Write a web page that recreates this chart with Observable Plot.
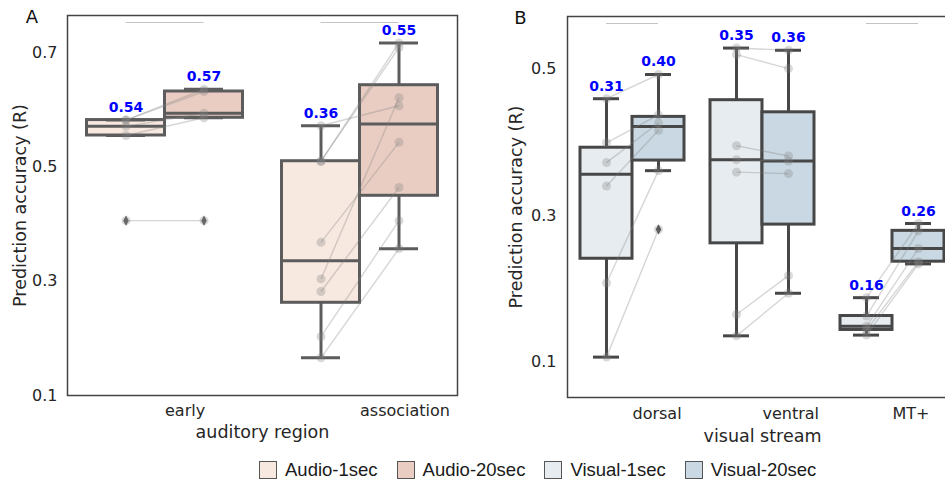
<!DOCTYPE html>
<html>
<head>
<meta charset="utf-8">
<script src="https://cdn.jsdelivr.net/npm/d3@7"></script>
<script src="https://cdn.jsdelivr.net/npm/@observablehq/plot@0.6"></script>
<style>
  html, body { margin: 0; padding: 0; background: #fff; width: 945px; height: 484px; overflow: hidden; }
  #wrap { position: relative; width: 945px; height: 484px; overflow: hidden; }
  #panelA { position: absolute; left: 0; top: 0; width: 470px; }
  #panelB { position: absolute; left: 470px; top: 0; width: 490px; }
  #panelA svg, #panelB svg { max-width: none !important; }
  #legend { position: absolute; left: 259px; top: 459px; display: flex; align-items: center; gap: 19px;
            font-family: "Liberation Sans", Arial, sans-serif; font-size: 18.5px; color: #1a1a1a; }
  .item { display: flex; align-items: center; gap: 8px; }
  .sw { width: 16px; height: 16px; border: 1px solid #555; }
</style>
</head>
<body>
<div id="wrap"><div id="panelA"></div><div id="panelB"></div><div id="legend"></div></div>
<script>
// ---------------- data ----------------
const auditoryRegions = ["early", "association"];
const audioConditions = ["Audio-1sec", "Audio-20sec"];
// one value per subject; same index = same subject in both conditions
const earlyAudio1sec  = [0.582, 0.582, 0.571, 0.555, 0.406];
const earlyAudio20sec = [0.636, 0.632, 0.594, 0.586, 0.406];
const assocAudio1sec  = [0.572, 0.510, 0.510, 0.368, 0.304, 0.282, 0.203, 0.166];
const assocAudio20sec = [0.607, 0.717, 0.709, 0.543, 0.621, 0.464, 0.406, 0.357];

const visualStreams = ["dorsal", "ventral", "MT+"];
const visualConditions = ["Visual-1sec", "Visual-20sec"];
const dorsalVisual1sec  = [0.459, 0.399, 0.372, 0.340, 0.208, 0.107];
const dorsalVisual20sec = [0.492, 0.437, 0.426, 0.416, 0.361, 0.281];
const ventralVisual1sec  = [0.528, 0.519, 0.395, 0.376, 0.359, 0.165, 0.136];
const ventralVisual20sec = [0.525, 0.500, 0.381, 0.374, 0.357, 0.218, 0.194];
const mtVisual1sec  = [0.188, 0.163, 0.149, 0.144, 0.137];
const mtVisual20sec = [0.289, 0.279, 0.255, 0.237, 0.234];

const yTicksA = [0.1, 0.3, 0.5, 0.7];
const yTicksB = [0.1, 0.3, 0.5];
const markedA = ["early", "association"];
const markedB = ["dorsal", "MT+"];

const audioColors = ["#f7e8e0", "#e9cdc3"];
const visualColors = ["#e7ecf0", "#c9d8e2"];

// ---------------- drawing ----------------
const thinDiamond = {
  draw(ctx, size) {
    const r = Math.sqrt(size / Math.PI);
    const h = r * 1.15, w = r * 0.62;
    ctx.moveTo(0, -h); ctx.lineTo(w, 0); ctx.lineTo(0, h); ctx.lineTo(-w, 0); ctx.closePath();
  }
};

function panel(cfg) {
  const {categories, conditions, values, colors, yDomain, yTicks, marked, stroke} = cfg;
  const boxW = 0.4, capW = 0.2;
  const posOf = (ci, hi) => ci + (hi - (conditions.length - 1) / 2) * boxW;
  const points = [], stats = [], links = [];
  categories.forEach((cat, ci) => {
    const series = values[ci];
    series.forEach((vals, hi) => {
      const pos = posOf(ci, hi);
      vals.forEach((v, s) => points.push({cat, cond: conditions[hi], subject: s, value: v, pos}));
      const sorted = vals.slice().sort(d3.ascending);
      const q1 = d3.quantileSorted(sorted, 0.25);
      const median = d3.quantileSorted(sorted, 0.5);
      const q3 = d3.quantileSorted(sorted, 0.75);
      const iqr = q3 - q1;
      const inside = sorted.filter(v => v >= q1 - 1.5 * iqr && v <= q3 + 1.5 * iqr);
      stats.push({
        cat, cond: conditions[hi], pos, q1, median, q3,
        lo: d3.min(inside), hi: d3.max(inside),
        outliers: sorted.filter(v => !inside.includes(v)),
        mean: d3.mean(vals), top: d3.max(vals)
      });
    });
    series[0].forEach((v, s) => links.push({x1: posOf(ci, 0), y1: v, x2: posOf(ci, 1), y2: series[1][s]}));
  });
  const outliers = stats.flatMap(d => d.outliers.map(v => ({pos: d.pos, value: v})));
  const catIndex = c => categories.indexOf(c);

  return Plot.plot({
    width: cfg.width, height: cfg.height,
    marginLeft: cfg.marginLeft, marginRight: cfg.marginRight,
    marginTop: cfg.marginTop, marginBottom: cfg.marginBottom,
    style: {fontFamily: "DejaVu Sans", fontSize: "16px", color: "#262626", background: "transparent",
            overflow: "visible", maxWidth: "none"},
    x: {domain: [-0.5, categories.length - 0.5], axis: null},
    y: {domain: yDomain, axis: null},
    color: {domain: conditions, range: colors},
    marks: [
      Plot.rect(stats, {x1: d => d.pos - boxW / 2, x2: d => d.pos + boxW / 2, y1: "q1", y2: "q3",
                        fill: "cond", stroke, strokeWidth: 3}),
      Plot.ruleX(stats, {x: "pos", y1: "q3", y2: "hi", stroke, strokeWidth: 3}),
      Plot.ruleX(stats, {x: "pos", y1: "lo", y2: "q1", stroke, strokeWidth: 3}),
      Plot.ruleY(stats, {y: "hi", x1: d => d.pos - capW / 2, x2: d => d.pos + capW / 2, stroke, strokeWidth: 3}),
      Plot.ruleY(stats, {y: "lo", x1: d => d.pos - capW / 2, x2: d => d.pos + capW / 2, stroke, strokeWidth: 3}),
      Plot.ruleY(stats, {y: "median", x1: d => d.pos - boxW / 2, x2: d => d.pos + boxW / 2, stroke, strokeWidth: 3}),
      Plot.dot(outliers, {x: "pos", y: "value", symbol: thinDiamond, r: 4.5, fill: stroke, stroke: "none"}),
      Plot.link(links, {x1: "x1", y1: "y1", x2: "x2", y2: "y2", stroke: "#808080", strokeOpacity: 0.32, strokeWidth: 1.4}),
      Plot.dot(points, {x: "pos", y: "value", r: 4.5, fill: "#808080", fillOpacity: 0.3, stroke: "none"}),
      Plot.text(stats, {x: "pos", y: "top", text: d => d3.format(".2f")(d.mean), dy: -12.5,
                        fill: "#0000ff", fontWeight: "bold", fontSize: 14, lineAnchor: "middle"}),
      Plot.ruleY(marked, {y: () => yDomain[1], x1: c => catIndex(c) - boxW / 2, x2: c => catIndex(c) + boxW / 2,
                          dy: 7, stroke: "#c4c4c4", strokeWidth: 1}),
      Plot.frame({stroke: "#444", strokeWidth: 1.5}),
      Plot.axisY(yTicks, {tickSize: 0, tickPadding: cfg.yPad, tickFormat: d3.format(".1f"), fontSize: 16, label: null}),
      Plot.axisX(d3.range(categories.length), {tickSize: 0, tickPadding: cfg.xPad, tickFormat: i => categories[i],
                          textAnchor: "start", fontSize: 16, label: null}),
      Plot.text([cfg.xLabel], {frameAnchor: "bottom", dy: cfg.xLabelDy, fontSize: 17.5, lineAnchor: "middle",
                          textAnchor: "middle"}),
      Plot.text(["Prediction accuracy (R)"], {frameAnchor: "left", rotate: -90, dx: cfg.yLabelDx, fontSize: 17.5,
                          lineAnchor: "middle", textAnchor: "middle"}),
      Plot.text([cfg.letter], {frameAnchor: "top-left", dx: cfg.letterDx, dy: 1.5, fontSize: 18, fill: "#111",
                          textAnchor: "middle", lineAnchor: "middle"})
    ]
  });
}

document.getElementById("panelA").append(panel({
  categories: auditoryRegions, conditions: audioConditions,
  values: [[earlyAudio1sec, earlyAudio20sec], [assocAudio1sec, assocAudio20sec]],
  colors: audioColors, yDomain: [0.1, 0.765], yTicks: yTicksA, marked: markedA, stroke: "#5c5c5c",
  width: 470, height: 450, marginLeft: 67, marginRight: 13, marginTop: 15, marginBottom: 55,
  yPad: 10, xPad: 9, xLabel: "auditory region", xLabelDy: 37, yLabelDx: -47.5, letter: "A", letterDx: -35.5
}));

document.getElementById("panelB").append(panel({
  categories: visualStreams, conditions: visualConditions,
  values: [[dorsalVisual1sec, dorsalVisual20sec], [ventralVisual1sec, ventralVisual20sec], [mtVisual1sec, mtVisual20sec]],
  colors: visualColors, yDomain: [0.052, 0.571], yTicks: yTicksB, marked: markedB, stroke: "#474747",
  width: 490, height: 450, marginLeft: 97, marginRight: 3, marginTop: 16, marginBottom: 53,
  yPad: 11, xPad: 10, xLabel: "visual stream", xLabelDy: 39, yLabelDx: -51.5, letter: "B", letterDx: -47
}));

// legend
const legend = document.getElementById("legend");
[...audioConditions.map((c, i) => [c, audioColors[i]]), ...visualConditions.map((c, i) => [c, visualColors[i]])]
  .forEach(([name, color]) => {
    const item = document.createElement("div");
    item.className = "item";
    const sw = document.createElement("div");
    sw.className = "sw";
    sw.style.background = color;
    const label = document.createElement("span");
    label.textContent = name;
    item.append(sw, label);
    legend.append(item);
  });
</script>
</body>
</html>
